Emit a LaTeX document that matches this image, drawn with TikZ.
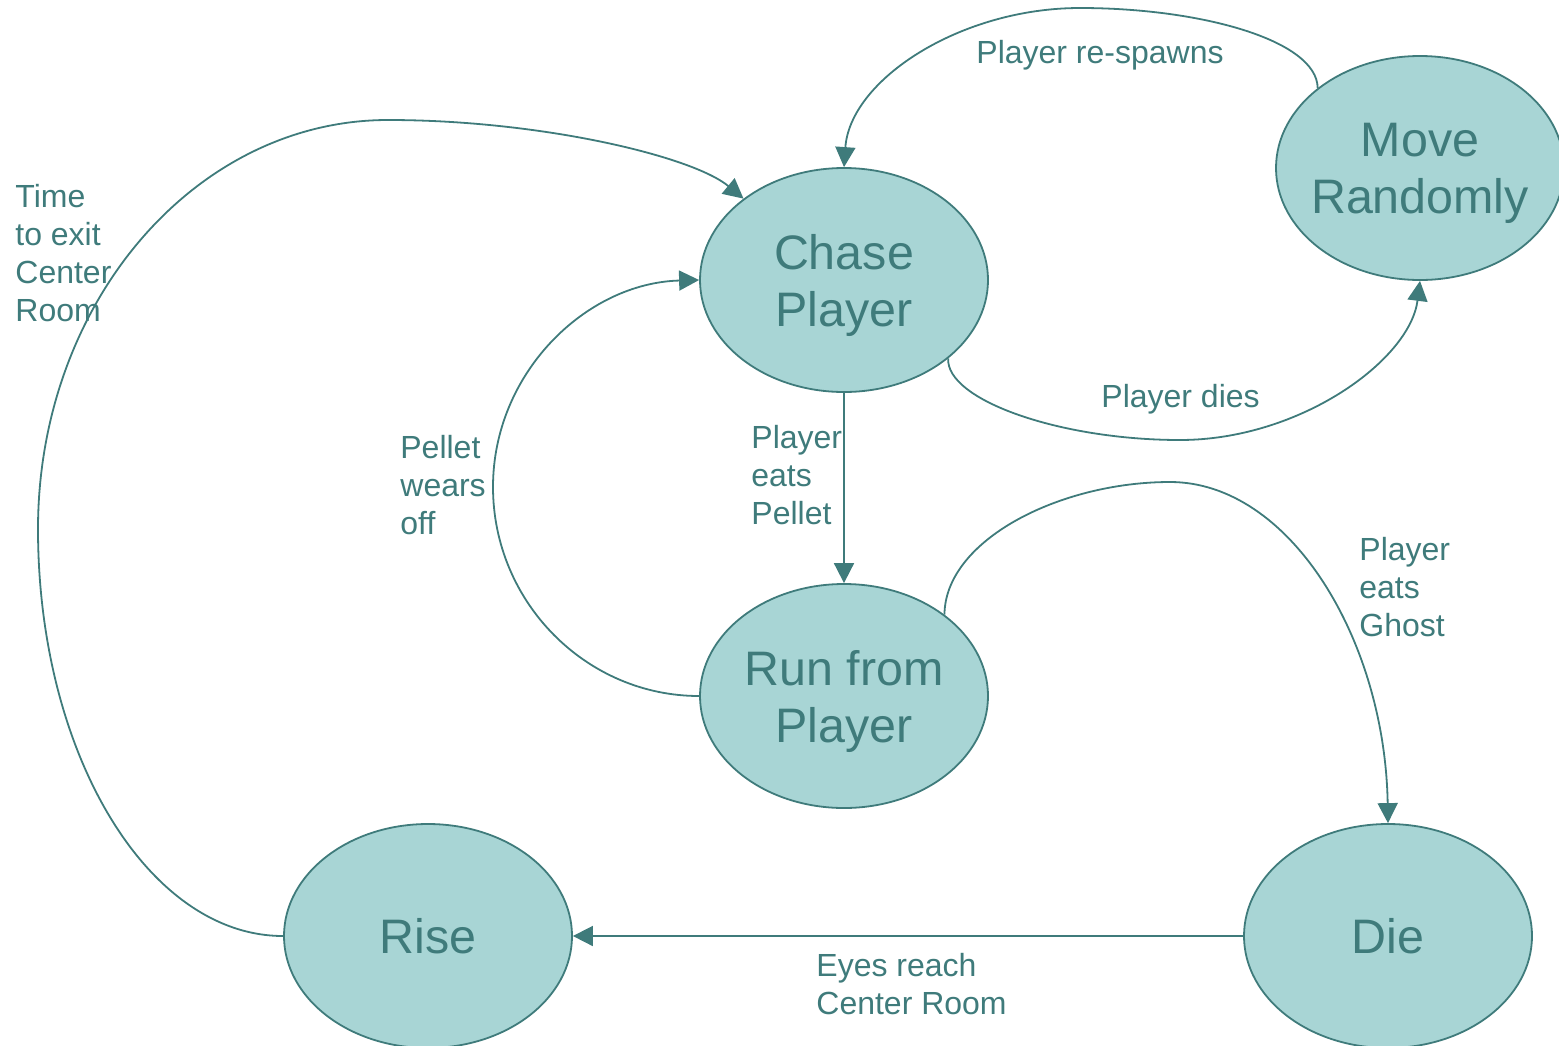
\documentclass[tikz,border=0pt]{standalone}
\usepackage{fontspec}
\setmainfont{Liberation Sans}
\usetikzlibrary{shapes.geometric,arrows.meta}
\definecolor{stfill}{HTML}{A8D5D5}
\definecolor{stline}{HTML}{3F7B7B}
\begin{document}
\begin{tikzpicture}[x=0.5pt,y=-0.5pt,
  state/.style={ellipse, draw=stline, fill=stfill, line width=0.9pt,
    minimum width=144pt, minimum height=112pt, inner sep=0pt},
  statelabel/.style={text=stline, align=center, inner sep=0pt,
    font=\fontsize{24.2}{28.5}\selectfont},
  twoline/.style={statelabel, yshift=-2.5pt},
  edgelabel/.style={text=stline, align=left, inner sep=0pt, anchor=base west,
    font=\fontsize{16}{19}\selectfont},
  trans/.style={draw=stline, line width=0.9pt,
    -{Triangle[length=10pt,width=10pt]}}]
\useasboundingbox (0,0) rectangle (1559,1045);

% states of the ghost
\node[state, label={[twoline]center:{Chase\\Player}}] (chase) at (844,280) {};
\node[state, label={[twoline]center:{Move\\Randomly}}] (move) at (1420,168) {};
\node[state, label={[twoline]center:{Run from\\Player}}] (run) at (844,696) {};
\node[state, label={[statelabel]center:{Rise}}] (rise) at (428,936) {};
\node[state, label={[statelabel]center:{Die}}] (die) at (1388,936) {};

% transitions
\draw[trans] (move.142) .. controls (1317,40) and (1200,8) .. (1080,8)
  .. controls (960,8) and (850,80) .. (chase.north);
\draw[trans] (chase.-37) .. controls (946,400) and (1060,440) .. (1180,440)
  .. controls (1300,440) and (1410,360) .. (move.south);
\draw[trans] (chase.south) -- (run.north);
\draw[trans] (run.west) .. controls (586,696) and (493,602) .. (493,487)
  .. controls (493,373) and (586,283) .. (chase.west);
\draw[trans] (run.39) .. controls (945,540) and (1060,482) .. (1170,482)
  .. controls (1290,482) and (1385,640) .. (die.north);
\draw[trans] (die.west) -- (rise.east);
\draw[trans] (rise.west) .. controls (148,936) and (38,754) .. (38,529)
  .. controls (38,303) and (195,120) .. (388,120)
  .. controls (540,120) and (692,156) .. (chase.141);

% transition labels (placed at the baseline of their last line)
\node[edgelabel] (lrespawn) at (976,63) {Player re-spawns};
\node[edgelabel] (ldies) at (1101,407) {Player dies};
\node[edgelabel] (lpellet) at (751,524) {Player\\eats\\Pellet};
\node[edgelabel] (lwears) at (400,534) {Pellet\\wears\\off};
\node[edgelabel] (lghost) at (1359,636) {Player\\eats\\Ghost};
\node[edgelabel] (leyes) at (816,1014) {Eyes reach\\Center Room};
\node[edgelabel] (ltime) at (15,321) {Time\\to exit\\Center\\Room};
\end{tikzpicture}
\end{document}
